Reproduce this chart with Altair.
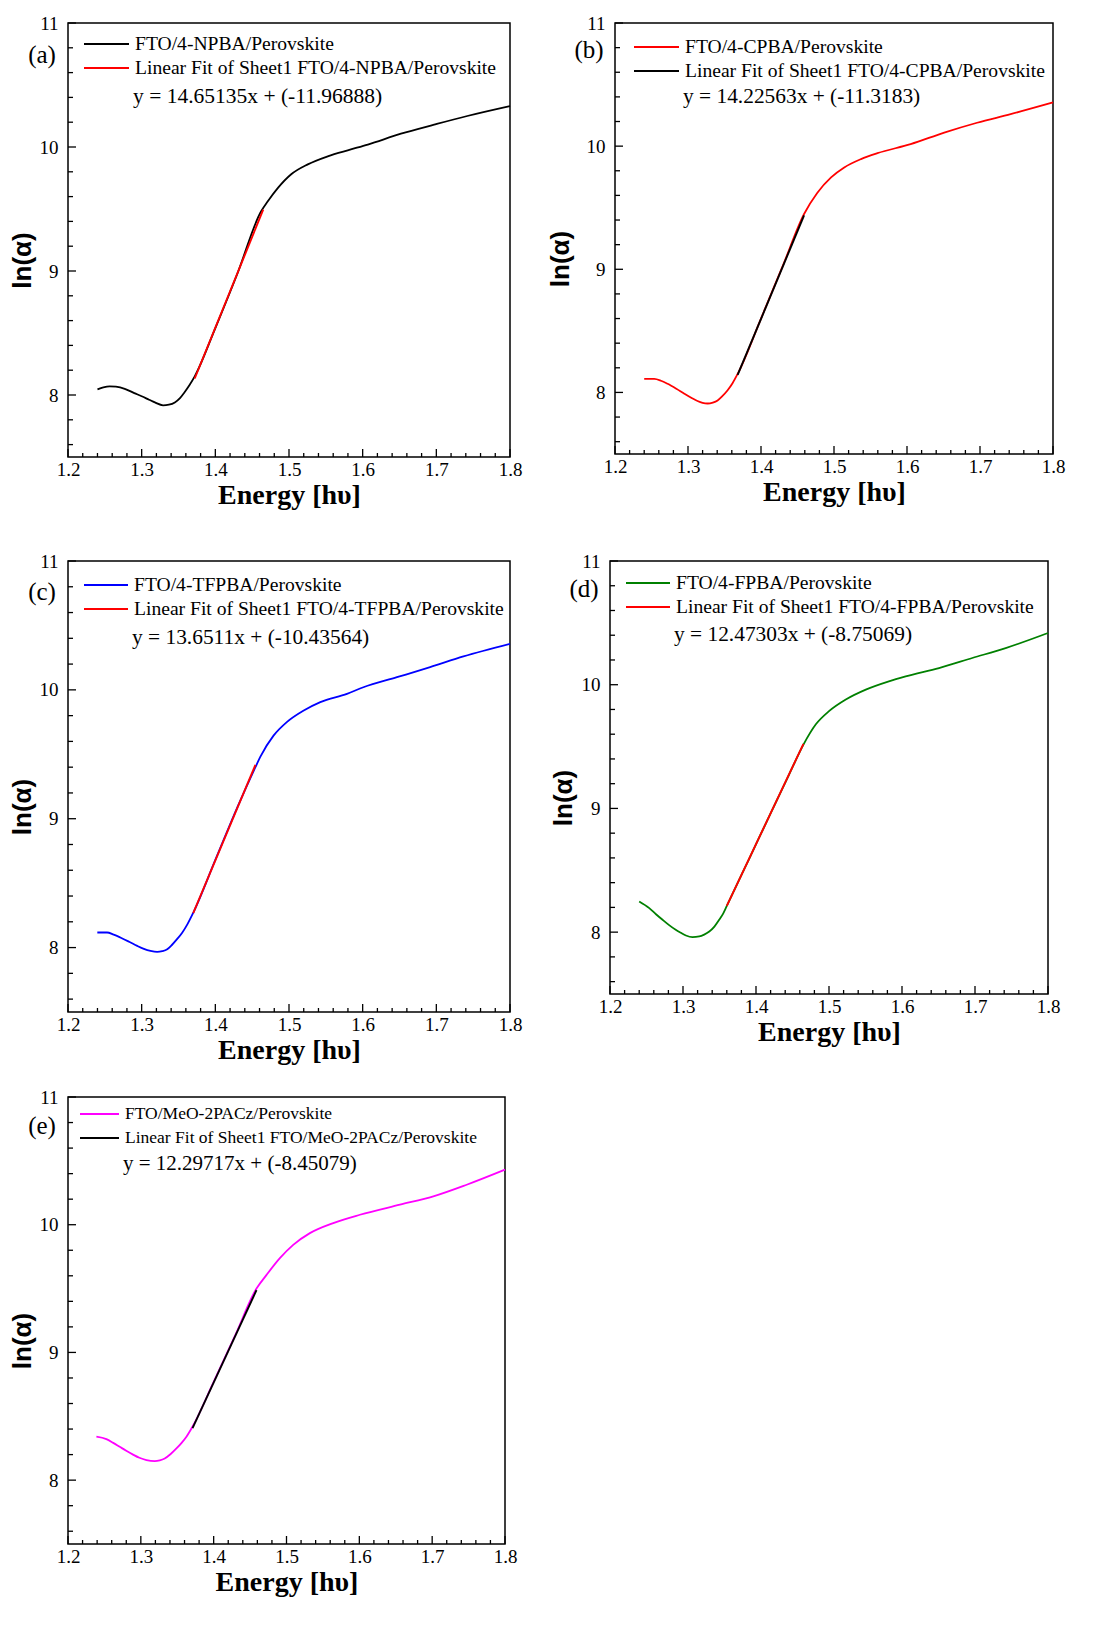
import altair as alt
import pandas as pd

# ---------------- data ----------------
X_DOMAIN = [1.2, 1.8]
Y_DOMAIN = [7.5, 11.0]
X_MAJOR = [1.2, 1.3, 1.4, 1.5, 1.6, 1.7, 1.8]
X_MINOR = [1.22, 1.24, 1.26, 1.28, 1.32, 1.34, 1.36, 1.38, 1.42, 1.44, 1.46, 1.48,
           1.52, 1.54, 1.56, 1.58, 1.62, 1.64, 1.66, 1.68, 1.72, 1.74, 1.76, 1.78]
Y_MAJOR = [8, 9, 10, 11]
Y_MINOR = [7.6, 7.8, 8.2, 8.4, 8.6, 8.8, 9.2, 9.4, 9.6, 9.8, 10.2, 10.4, 10.6, 10.8]

PANEL_LABELS = ["(a)", "(b)", "(c)", "(d)", "(e)"]
SERIES_NAMES = ["FTO/4-NPBA/Perovskite", "FTO/4-CPBA/Perovskite", "FTO/4-TFPBA/Perovskite",
                "FTO/4-FPBA/Perovskite", "FTO/MeO-2PACz/Perovskite"]
FIT_NAMES = ["Linear Fit of Sheet1 " + n for n in SERIES_NAMES]
EQUATIONS = ["y = 14.65135x + (-11.96888)", "y = 14.22563x + (-11.3183)",
             "y = 13.6511x + (-10.43564)", "y = 12.47303x + (-8.75069)",
             "y = 12.29717x + (-8.45079)"]

A_X = [1.240, 1.248, 1.2565, 1.265, 1.277, 1.29, 1.30, 1.31, 1.318, 1.329, 1.337, 1.345, 1.352,
       1.358, 1.365, 1.372, 1.40, 1.43, 1.462, 1.471, 1.485, 1.503, 1.5255, 1.5526, 1.584, 1.607,
       1.652, 1.697, 1.742, 1.8]
A_Y = [8.046, 8.062, 8.07, 8.067, 8.05, 8.015, 7.99, 7.962, 7.94, 7.917, 7.922, 7.94, 7.975,
       8.02, 8.08, 8.15, 8.54, 8.98, 9.48, 9.56, 9.67, 9.78, 9.86, 9.925, 9.98, 10.02,
       10.107, 10.18, 10.25, 10.33]
A_FIT_X = [1.372, 1.465]
A_FIT_Y = [8.133, 9.495]

B_X = [1.240, 1.2538, 1.263, 1.272, 1.284, 1.295, 1.305, 1.313, 1.320, 1.327, 1.334, 1.3405,
       1.347, 1.354, 1.361, 1.368, 1.40, 1.43, 1.459, 1.477, 1.496, 1.514, 1.537, 1.5595, 1.605,
       1.651, 1.696, 1.742, 1.8]
B_Y = [8.11, 8.11, 8.095, 8.07, 8.03, 7.99, 7.955, 7.93, 7.915, 7.91, 7.918, 7.935, 7.97,
       8.016, 8.075, 8.15, 8.60, 9.03, 9.449, 9.62, 9.746, 9.827, 9.895, 9.943, 10.016, 10.11,
       10.19, 10.26, 10.355]
B_FIT_X = [1.368, 1.459]
B_FIT_Y = [8.142, 9.437]

C_X = [1.2398, 1.253, 1.262, 1.271, 1.283, 1.294, 1.303, 1.312, 1.321, 1.328, 1.3347, 1.341,
       1.348, 1.355, 1.362, 1.37, 1.40, 1.43, 1.4544, 1.461, 1.479, 1.497, 1.52, 1.5425, 1.5787,
       1.601, 1.6465, 1.6916, 1.7368, 1.8]
C_Y = [8.117, 8.117, 8.10, 8.078, 8.045, 8.013, 7.99, 7.974, 7.966, 7.972, 7.987, 8.02, 8.065,
       8.115, 8.18, 8.27, 8.68, 9.09, 9.40, 9.48, 9.645, 9.75, 9.84, 9.905, 9.969, 10.02, 10.098,
       10.176, 10.259, 10.357]
C_FIT_X = [1.370, 1.4544]
C_FIT_Y = [8.267, 9.418]

D_X = [1.240, 1.2538, 1.263, 1.272, 1.281, 1.290, 1.297, 1.304, 1.313, 1.3223, 1.329, 1.336,
       1.343, 1.3496, 1.355, 1.3597, 1.39, 1.42, 1.445, 1.465, 1.482, 1.5, 1.523, 1.5504, 1.582,
       1.605, 1.6507, 1.6963, 1.742, 1.8]
D_Y = [8.248, 8.194, 8.145, 8.10, 8.057, 8.019, 7.995, 7.973, 7.96, 7.965, 7.98, 8.005, 8.045,
       8.10, 8.15, 8.208, 8.585, 8.96, 9.27, 9.516, 9.68, 9.786, 9.88, 9.96, 10.027, 10.067,
       10.135, 10.216, 10.296, 10.418]
D_FIT_X = [1.360, 1.465]
D_FIT_Y = [8.213, 9.522]

E_X = [1.239, 1.2527, 1.262, 1.271, 1.280, 1.2893, 1.298, 1.3077, 1.3191, 1.326, 1.3328, 1.341,
       1.3489, 1.356, 1.3626, 1.3709, 1.40, 1.43, 1.4588, 1.4726, 1.4909, 1.5092, 1.5321, 1.5642,
       1.6008, 1.6558, 1.7016, 1.7474, 1.8]
E_Y = [8.34, 8.321, 8.292, 8.261, 8.23, 8.20, 8.175, 8.157, 8.149, 8.155, 8.17, 8.205, 8.248,
       8.292, 8.34, 8.418, 8.77, 9.14, 9.50, 9.607, 9.738, 9.842, 9.934, 10.013, 10.078, 10.157,
       10.222, 10.313, 10.431]
E_FIT_X = [1.371, 1.4588]
E_FIT_Y = [8.408, 9.488]

DATA_COLORS = ["#000000", "#ff0000", "#0000ff", "#008000", "#ff00ff"]
FIT_COLORS = ["#ff0000", "#000000", "#ff0000", "#ff0000", "#000000"]

# ---------------- styling ----------------
SERIF = "Liberation Serif"
SANS = "Liberation Sans"

# per panel: width, height, legendX, legendY, symbol length, legend font,
# equation font, equation y, panel-label y, y-title padding
STYLE = [
    dict(w=442, h=434, lx=15, ly=11, sym=45, lf=19.6, ef=21.5, ey=74, py=32, tp=3.5),
    dict(w=438, h=431, lx=18, ly=14, sym=45, lf=19.6, ef=21.4, ey=74, py=27, tp=12.5),
    dict(w=442, h=451, lx=15, ly=14, sym=44, lf=19.6, ef=21.4, ey=77, py=31, tp=3.5),
    dict(w=438, h=433, lx=15, ly=12, sym=44, lf=19.6, ef=21.4, ey=74, py=28, tp=4.5),
    dict(w=437, h=447, lx=11, ly=7, sym=39, lf=17.5, ef=21.0, ey=67, py=29, tp=3.5),
]


def panel(i, xs, ys, fx, fy):
    st = STYLE[i]
    w, h = st["w"], st["h"]
    name, fit = SERIES_NAMES[i], FIT_NAMES[i]
    xsc = alt.Scale(domain=X_DOMAIN, nice=False, zero=False)
    ysc = alt.Scale(domain=Y_DOMAIN, nice=False, zero=False)
    csc = alt.Scale(domain=[name, fit], range=[DATA_COLORS[i], FIT_COLORS[i]])
    leg = alt.Legend(title=None, orient="none", legendX=st["lx"], legendY=st["ly"],
                     symbolType="stroke", symbolSize=st["sym"] ** 2, symbolStrokeWidth=1.8,
                     clipHeight=20, rowPadding=4, labelOffset=5, padding=0,
                     labelFont=SERIF, labelFontSize=st["lf"], labelColor="black",
                     labelLimit=600)
    x_axis = alt.Axis(values=X_MAJOR, format=".1f", title="Energy [hυ]",
                      titleFont=SERIF, titleFontWeight="bold", titleFontSize=28,
                      titleColor="black", labelFont=SERIF, labelFontSize=19,
                      labelColor="black", labelFlush=False, domain=False, ticks=False,
                      tickSize=0, grid=False, labelPadding=3, titlePadding=2)
    y_axis = alt.Axis(values=Y_MAJOR, format="d", title="ln(α)",
                      titleFont=SANS, titleFontWeight="bold", titleFontSize=26,
                      titleColor="black", labelFont=SERIF, labelFontSize=19,
                      labelColor="black", labelFlush=False, domain=False, ticks=False,
                      tickSize=0, grid=False, labelPadding=10, titlePadding=st["tp"],
                      titleY=h / 2 + 20)

    df = pd.DataFrame({"x": xs, "y": ys, "s": name})
    dfit = pd.DataFrame({"x": fx, "y": fy, "s": fit})

    X = alt.X("x:Q", scale=xsc, axis=x_axis)
    Y = alt.Y("y:Q", scale=ysc, axis=y_axis)

    data_line = alt.Chart(df).mark_line(interpolate="monotone", strokeWidth=1.8).encode(
        x=X, y=Y, color=alt.Color("s:N", scale=csc, legend=leg),
    )
    fit_line = alt.Chart(dfit).mark_line(strokeWidth=1.9).encode(
        x=X, y=Y, color=alt.Color("s:N", scale=csc, legend=leg),
    )
    xmaj = alt.Chart(pd.DataFrame({"x": X_MAJOR})).mark_rule(color="black", strokeWidth=1.3).encode(
        x=X, y=alt.value(h), y2=alt.value(h - 8))
    xmin = alt.Chart(pd.DataFrame({"x": X_MINOR})).mark_rule(color="black", strokeWidth=1.3).encode(
        x=X, y=alt.value(h), y2=alt.value(h - 4))
    ymaj = alt.Chart(pd.DataFrame({"y": Y_MAJOR})).mark_rule(color="black", strokeWidth=1.3).encode(
        y=Y, x=alt.value(0), x2=alt.value(8))
    ymin = alt.Chart(pd.DataFrame({"y": Y_MINOR})).mark_rule(color="black", strokeWidth=1.3).encode(
        y=Y, x=alt.value(0), x2=alt.value(5))
    eq = alt.Chart(pd.DataFrame({"t": [EQUATIONS[i]]})).mark_text(
        align="left", baseline="middle", font=SERIF, fontSize=st["ef"], color="black").encode(
        x=alt.value(st["lx"] + st["sym"] + 5), y=alt.value(st["ey"]), text="t:N")
    lab = alt.Chart(pd.DataFrame({"t": [PANEL_LABELS[i]]})).mark_text(
        align="center", baseline="middle", font=SERIF, fontSize=25, color="black").encode(
        x=alt.value(-26), y=alt.value(st["py"]), text="t:N")

    return alt.layer(data_line, fit_line, xmaj, xmin, ymaj, ymin, eq, lab).properties(
        width=w, height=h)


pa = panel(0, A_X, A_Y, A_FIT_X, A_FIT_Y)
pb = panel(1, B_X, B_Y, B_FIT_X, B_FIT_Y)
pc = panel(2, C_X, C_Y, C_FIT_X, C_FIT_Y)
pd_ = panel(3, D_X, D_Y, D_FIT_X, D_FIT_Y)
pe = panel(4, E_X, E_Y, E_FIT_X, E_FIT_Y)

row1 = alt.hconcat(pa, pb, spacing=23).resolve_scale(color="independent", x="independent", y="independent")
row2 = alt.hconcat(pc, pd_, spacing=26).resolve_scale(color="independent", x="independent", y="independent")
bottom = alt.vconcat(row2, pe, spacing=22).resolve_scale(color="independent", x="independent", y="independent")

chart = alt.vconcat(row1, bottom, spacing=41).resolve_scale(
    color="independent", x="independent", y="independent"
).properties(
    padding={"left": 0, "top": 5, "right": 5, "bottom": 5},
    background="white",
).configure_view(
    stroke="black", strokeWidth=1.5
)

chart.save("out.html", embed_options={"renderer": "svg", "actions": False})
